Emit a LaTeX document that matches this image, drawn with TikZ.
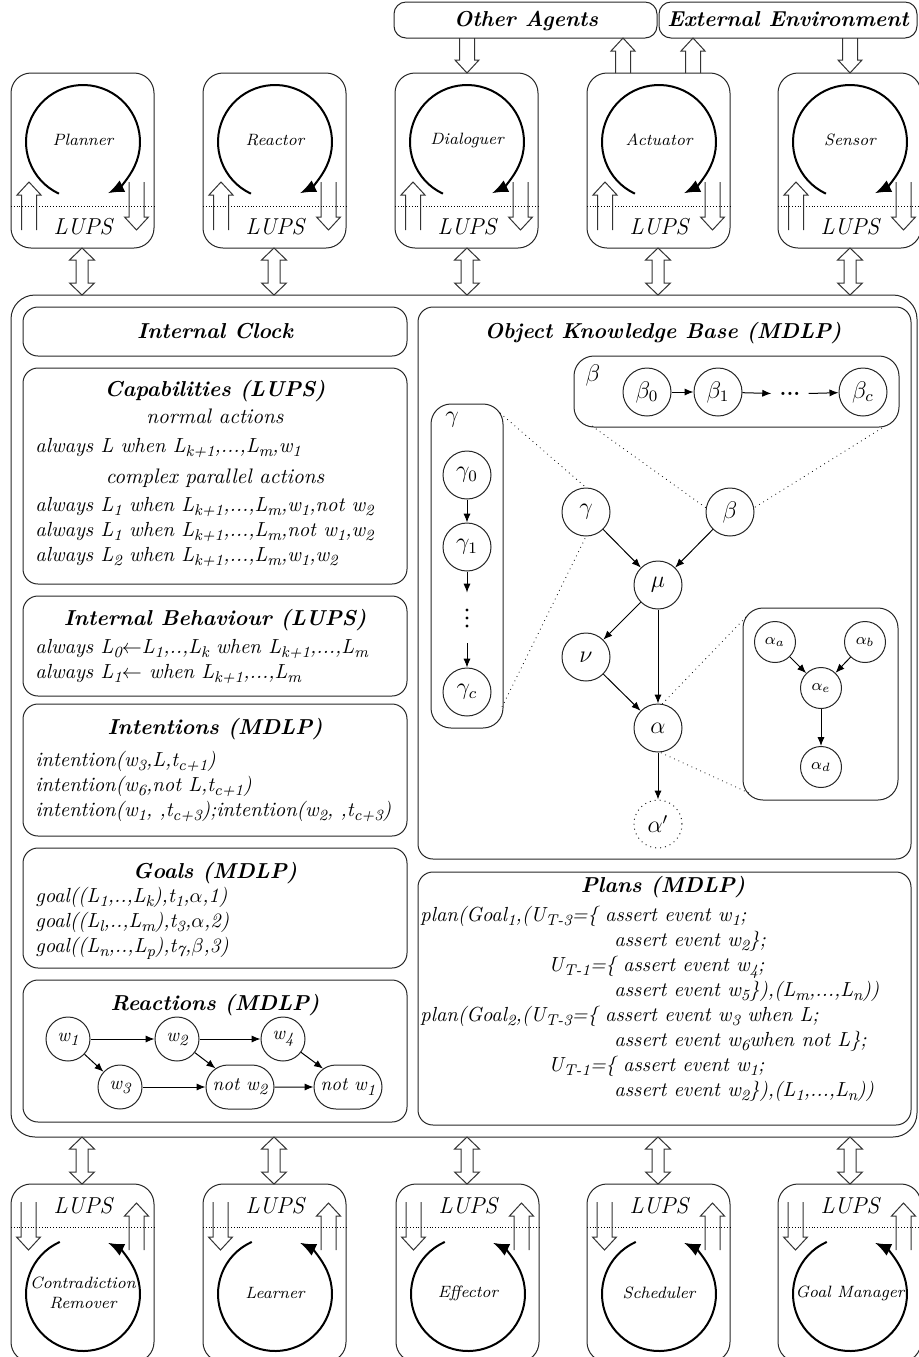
\documentclass[tikz,border=0pt]{standalone}
\usetikzlibrary{arrows.meta,fit,shapes.misc}
\newcommand\su[1]{\raisebox{-0.5ex}{\fontsize{7.8}{8}\selectfont #1}}
\tikzset{
  bl/.style={draw=black!85, line width=0.5pt},
  rbox/.style={bl, rounded corners=7.5pt, inner sep=0pt},
  modbox/.style={bl, rounded corners=10pt, inner sep=0pt},
  busbox/.style={bl, rounded corners=12pt, inner sep=0pt},
  extbox/.style={bl, rounded corners=6pt, inner sep=0pt},
  blk/.style={draw=black!80, line width=0.5pt},
  cyc/.style={line width=1pt, -{Latex[length=8pt,width=6.5pt]}},
  sepline/.style={densely dotted, line width=0.4pt},
  ttl/.style={font=\fontsize{10.8}{13}\selectfont\bfseries\itshape, inner sep=0pt, anchor=base},
  txt/.style={font=\fontsize{10.2}{12}\selectfont\itshape, inner sep=0pt, anchor=base west},
  ctxt/.style={font=\fontsize{10.5}{12}\selectfont\itshape, inner sep=0pt, anchor=base},
  modlbl/.style={font=\fontsize{8.2}{10}\selectfont\itshape, inner sep=0pt, align=center},
  lups/.style={font=\fontsize{11.5}{13}\selectfont\itshape, inner sep=0pt},
  gn/.style={circle, bl, minimum size=24pt, inner sep=0pt, font=\fontsize{11.5}{11}\selectfont},
  an/.style={circle, bl, minimum size=20.5pt, inner sep=0pt, font=\fontsize{8}{8}\selectfont},
  rn/.style={circle, bl, minimum size=22pt, inner sep=0pt, font=\fontsize{9.5}{9}\selectfont\itshape},
  rr/.style={rounded rectangle, bl, minimum width=34pt, minimum height=22pt, inner sep=0pt, font=\fontsize{9.5}{9}\selectfont\itshape},
  ed/.style={line width=0.5pt, -{Latex[length=4.5pt,width=3.6pt]}},
  dl/.style={dotted, line width=0.4pt},
}
\newcommand\uparr[3]{\draw[blk] (#1-7.5,#3) -- (#1-7.5,#2+13) -- (#1-12,#2+13) -- (#1,#2) -- (#1+12,#2+13) -- (#1+7.5,#2+13) -- (#1+7.5,#3);}
\newcommand\dnarr[3]{\draw[blk] (#1-7.5,#2) -- (#1-7.5,#3-13) -- (#1-12,#3-13) -- (#1,#3) -- (#1+12,#3-13) -- (#1+7.5,#3-13) -- (#1+7.5,#2);}
\newcommand\dblarr[3]{\draw[blk] (#1,#2) -- (#1+12.5,#2+12) -- (#1+6,#2+12) -- (#1+6,#3-12) -- (#1+12.5,#3-12) -- (#1,#3) -- (#1-12.5,#3-12) -- (#1-6,#3-12) -- (#1-6,#2+12) -- (#1-12.5,#2+12) -- cycle;}
\newcommand\topmod[3]{%
  \node[modbox, fit={(#2,73) (#2+143,248)}] (#1) {};
  \node[modlbl] (#1l) at (#2+72,140) {#3};
  \node[lups] (#1u) at (#2+72,227) {LUPS};
  \draw[sepline] (#2,206) -- (#2+143,206);
  \draw[cyc] (#2+72,142) ++(115:57) arc[start angle=115,end angle=424,radius=57];
  \uparr{#2+18}{182}{230}
  \dnarr{#2+125.5}{182}{230}
}
\newcommand\botmod[3]{%
  \node[modbox, fit={(#2,1184) (#2+143,1362)}] (#1) {};
  \node[modlbl] (#1l) at (#2+72,1293) {#3};
  \node[lups] (#1u) at (#2+72,1206) {LUPS};
  \draw[sepline] (#2,1227) -- (#2+143,1227);
  \draw[cyc] (#2+72,1294) ++(246:57) arc[start angle=246,end angle=-64,radius=57];
  \dnarr{#2+17.5}{1202}{1250}
  \uparr{#2+125.5}{1203}{1250}
}
\begin{document}
\begin{tikzpicture}[x=0.5pt,y=-0.5pt]
\useasboundingbox (0,0) rectangle (918,1357);
% external boxes
\node[extbox, fit={(394,2) (657,38)}] (oa) {};
\node[ttl] (oat) at (526,26) {Other Agents};
\node[extbox, fit={(659,2) (917,38)}] (ee) {};
\node[ttl] (eet) at (788,26) {External Environment};
% top modules
\topmod{planner}{11}{Planner}
\topmod{reactor}{203}{Reactor}
\topmod{dialoguer}{395}{Dialoguer}
\topmod{actuator}{587}{Actuator}
\topmod{sensor}{778}{Sensor}
\dnarr{467}{38}{73}
\uparr{623}{38}{73}
\uparr{693}{38}{73}
\dnarr{850}{38}{73}
\dblarr{82}{248}{295}
\dblarr{274}{248}{295}
\dblarr{467}{248}{295}
\dblarr{658}{248}{295}
\dblarr{850}{248}{295}
% bus
\node[busbox, fit={(11,295) (917,1137)}] (bus) {};
% left column
\node[rbox, fit={(23,307) (407,356)}] (clock) {};
\node[ttl] at (215,338) {Internal Clock};
\node[rbox, fit={(23,368) (407,584)}] (cap) {};
\node[ttl] at (215,396) {Capabilities (LUPS)};
\node[ctxt] at (215,423) {normal actions};
\node[txt] at (35,452) {always L when L\su{k+1},...,L\su{m},w\su{1}};
\node[ctxt] at (215,483) {complex parallel actions};
\node[txt] at (35,511) {always L\su{1} when L\su{k+1},...,L\su{m},w\su{1},not w\su{2}};
\node[txt] at (35,536) {always L\su{1} when L\su{k+1},...,L\su{m},not w\su{1},w\su{2}};
\node[txt] at (35,561) {always L\su{2} when L\su{k+1},...,L\su{m},w\su{1},w\su{2}};
\node[rbox, fit={(23,596) (407,696)}] (beh) {};
\node[ttl] at (215,625) {Internal Behaviour (LUPS)};
\node[txt] at (35,653) {always L\su{0}$\leftarrow$L\su{1},..,L\su{k} when L\su{k+1},...,L\su{m}};
\node[txt] at (35,678) {always L\su{1}$\leftarrow$ when L\su{k+1},...,L\su{m}};
\node[rbox, fit={(23,704) (407,836)}] (intn) {};
\node[ttl] at (215,734) {Intentions (MDLP)};
\node[txt] at (35,766) {intention(w\su{3},L,t\su{c+1})};
\node[txt] at (35,791) {intention(w\su{6},not L,t\su{c+1})};
\node[txt] at (35,816) {intention(w\su{1}, ,t\su{c+3});intention(w\su{2}, ,t\su{c+3})};
\node[rbox, fit={(23,848) (407,968)}] (goals) {};
\node[ttl] at (215,878) {Goals (MDLP)};
\node[txt] at (35,902) {goal((L\su{1},..,L\su{k}),t\su{1},$\alpha$,1)};
\node[txt] at (35,927) {goal((L\su{l},..,L\su{m}),t\su{3},$\alpha$,2)};
\node[txt] at (35,952) {goal((L\su{n},..,L\su{p}),t\su{7},$\beta$,3)};
\node[rbox, fit={(23,980) (407,1122)}] (react) {};
\node[ttl] at (215,1010) {Reactions (MDLP)};
\node[rn] (w1) at (68,1039) {w\su{1}};
\node[rn] (w2) at (177,1039) {w\su{2}};
\node[rn] (w4) at (283,1039) {w\su{4}};
\node[rn] (w3) at (120,1087) {w\su{3}};
\node[rr] (nw2) at (240,1087) {not w\su{2}};
\node[rr] (nw1) at (348,1087) {not w\su{1}};
\draw[ed] (w1) -- (w2);
\draw[ed] (w2) -- (w4);
\draw[ed] (w1) -- (w3);
\draw[ed] (w3) -- (nw2);
\draw[ed] (w2) -- (nw2);
\draw[ed] (nw2) -- (nw1);
\draw[ed] (w4) -- (nw1);
% object knowledge base
\node[rbox, fit={(418,307) (911,859)}] (okb) {};
\node[ttl] at (663,338) {Object Knowledge Base (MDLP)};
\node[rbox, rounded corners=10pt, fit={(574,356) (899,427)}] (bbox) {};
\node[font=\fontsize{11.5}{11}\selectfont] at (593,375) {$\beta$};
\node[gn] (b0) at (647,392) {$\beta_0$};
\node[gn] (b1) at (718,392) {$\beta_1$};
\node[inner xsep=4pt, font=\fontsize{11}{11}\selectfont\bfseries] (bd) at (790,394) {...};
\node[gn] (bc) at (863,392) {$\beta_c$};
\draw[ed] (b0) -- (b1);
\draw[ed] (b1) -- (bd);
\draw[ed] (bd) -- (bc);
\node[rbox, rounded corners=10pt, fit={(431,404) (503,728)}] (gbox) {};
\node[font=\fontsize{11.5}{11}\selectfont] at (452,420) {$\gamma$};
\node[gn] (g0) at (467,475) {$\gamma_0$};
\node[gn] (g1) at (467,547) {$\gamma_1$};
\node[minimum height=25pt, minimum width=4pt, inner sep=0pt] (gd) at (467,618) {};
\fill (gd.center) ++(0,-8) circle[radius=1.6] (gd.center) circle[radius=1.6] (gd.center) ++(0,8) circle[radius=1.6];
\node[gn] (gc) at (467,692) {$\gamma_c$};
\draw[ed] (g0) -- (g1);
\draw[ed] (g1) -- (gd);
\draw[ed] (gd) -- (gc);
\node[gn] (gam) at (586,512) {$\gamma$};
\node[gn] (bet) at (730,512) {$\beta$};
\node[gn] (mu) at (658,585) {$\mu$};
\node[gn] (nu) at (586,657) {$\nu$};
\node[gn] (alp) at (658,728) {$\alpha$};
\node[gn, dotted] (alpp) at (658,824) {$\alpha'$};
\draw[ed] (gam) -- (mu);
\draw[ed] (bet) -- (mu);
\draw[ed] (mu) -- (nu);
\draw[ed] (mu) -- (alp);
\draw[ed] (nu) -- (alp);
\draw[ed] (alp) -- (alpp);
\node[rbox, rounded corners=10pt, fit={(743,608) (898,800)}] (abox) {};
\node[an] (aa) at (775,642) {$\alpha_a$};
\node[an] (ab) at (865,642) {$\alpha_b$};
\node[an] (ae) at (821,688) {$\alpha_e$};
\node[an] (ad) at (821,767) {$\alpha_d$};
\draw[ed] (aa) -- (ae);
\draw[ed] (ab) -- (ae);
\draw[ed] (ae) -- (ad);
\coordinate (c1) at (500,413);
\coordinate (c2) at (502,707);
\coordinate (c3) at (592,426);
\coordinate (c4) at (882,428);
\coordinate (c5) at (746,617);
\coordinate (c6) at (749,793);
\draw[dl] (c1) -- (gam.north);
\draw[dl] (c2) -- (gam.south);
\draw[dl] (c3) -- (bet.170);
\draw[dl] (c4) -- (bet.10);
\draw[dl] (c5) -- (alp.80);
\draw[dl] (c6) -- (alp.-85);
% plans
\node[rbox, fit={(418,872) (911,1125)}] (plans) {};
\node[ttl] at (663,892) {Plans (MDLP)};
\node[txt] at (420,921) {plan(Goal\su{1},(U\su{T-3}=\{ assert event w\su{1};};
\node[txt] at (614,946) {assert event w\su{2}\};};
\node[txt] at (548,971) {U\su{T-1}=\{ assert event w\su{4};};
\node[txt] at (614,996) {assert event w\su{5}\}),(L\su{m},...,L\su{n}))};
\node[txt] at (420,1021) {plan(Goal\su{2},(U\su{T-3}=\{ assert event w\su{3} when L;};
\node[txt] at (614,1046) {assert event w\su{6}when not L\};};
\node[txt] at (548,1071) {U\su{T-1}=\{ assert event w\su{1};};
\node[txt] at (614,1096) {assert event w\su{2}\}),(L\su{1},...,L\su{n}))};
% bottom modules
\dblarr{82}{1137}{1184}
\dblarr{274}{1137}{1184}
\dblarr{467}{1137}{1184}
\dblarr{658}{1137}{1184}
\dblarr{850}{1137}{1184}
\botmod{contra}{11}{Contradiction\\Remover}
\botmod{learner}{203}{Learner}
\botmod{effector}{396}{Effector}
\botmod{scheduler}{587}{Scheduler}
\botmod{goalman}{778}{Goal Manager}
\end{tikzpicture}
\end{document}
